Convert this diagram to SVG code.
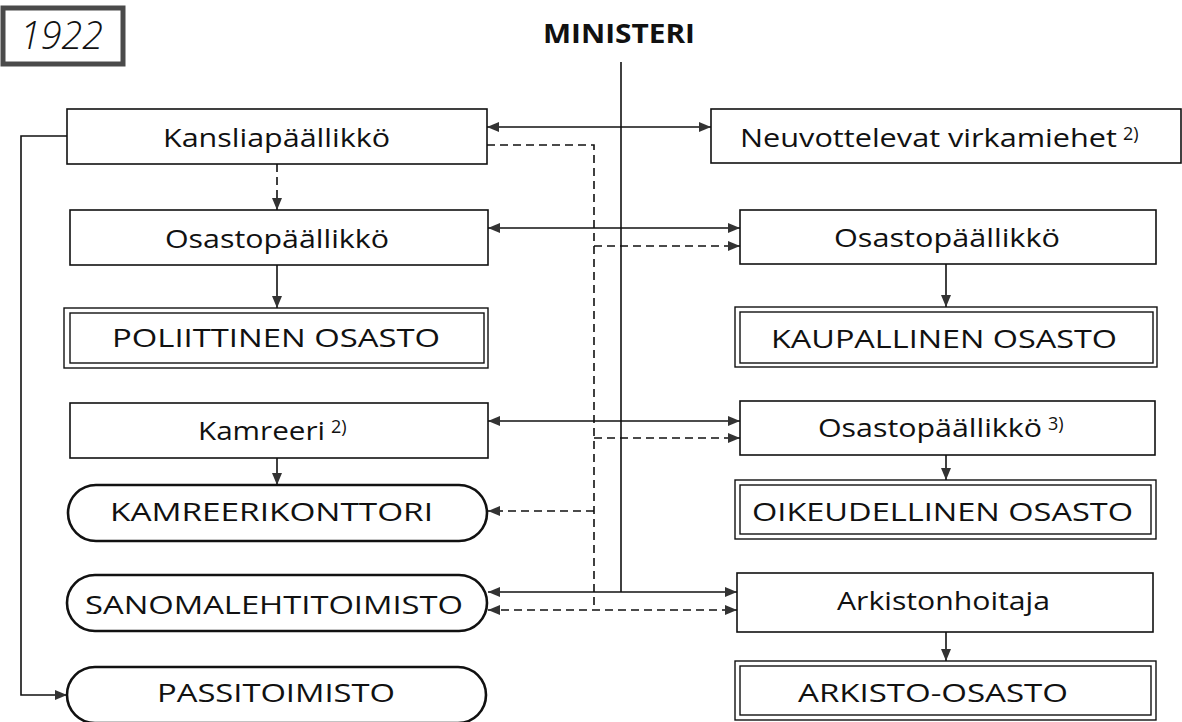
<svg xmlns="http://www.w3.org/2000/svg" width="1182" height="722" viewBox="0 0 1182 722">
<style>
.box{fill:#fff;stroke:#111;stroke-width:1.6}
.dbl{fill:none;stroke:#111;stroke-width:1.4}
.pill{fill:#fff;stroke:#111;stroke-width:2.6}
.t{font-family:"Open Sans","Liberation Sans",sans-serif;font-size:26px;fill:#111}
.sup{font-family:"Open Sans","Liberation Sans",sans-serif;font-size:18px;fill:#111}
.s{fill:none;stroke:#111;stroke-width:1.6}
.d{fill:none;stroke:#111;stroke-width:1.6;stroke-dasharray:8 5}
</style>
<defs>
<marker id="ah" viewBox="0 0 12 10" refX="12" refY="5" markerWidth="12" markerHeight="10" markerUnits="userSpaceOnUse" orient="auto-start-reverse">
<path d="M0,0 L12,5 L0,10 z" fill="#333"/>
</marker>
</defs>
<rect width="1182" height="722" fill="#fff"/>

<g id="year">
<rect x="3" y="8" width="120" height="56" fill="#fff" stroke="#4a4a4a" stroke-width="5"/>
<text x="20" y="49" font-family="'Open Sans','Liberation Sans',sans-serif" font-style="italic" font-weight="300" font-size="38" fill="#111" textLength="83" lengthAdjust="spacingAndGlyphs">1922</text>
</g>
<g id="ministeri">
<text x="543" y="43" font-family="'Open Sans','Liberation Sans',sans-serif" font-weight="bold" font-size="27" fill="#111" textLength="152" lengthAdjust="spacingAndGlyphs">MINISTERI</text>
</g>

<g id="connectors">
<path class="s" d="M621,62 V592"/>
<path class="s" d="M487,127 H711" marker-start="url(#ah)" marker-end="url(#ah)"/>
<path class="d" d="M487,145 H594 V610"/>
<path class="d" d="M277,164 V210" marker-end="url(#ah)"/>
<path class="s" d="M277,265 V308" marker-end="url(#ah)"/>
<path class="s" d="M488,228 H740" marker-start="url(#ah)" marker-end="url(#ah)"/>
<path class="d" d="M594,246 H740" marker-end="url(#ah)"/>
<path class="s" d="M946,264 V307" marker-end="url(#ah)"/>
<path class="s" d="M488,421 H740" marker-start="url(#ah)" marker-end="url(#ah)"/>
<path class="d" d="M594,438 H740" marker-end="url(#ah)"/>
<path class="s" d="M277,458 V485" marker-end="url(#ah)"/>
<path class="s" d="M946,455 V480" marker-end="url(#ah)"/>
<path class="d" d="M594,511 H488" marker-end="url(#ah)"/>
<path class="s" d="M488,592 H737" marker-start="url(#ah)" marker-end="url(#ah)"/>
<path class="d" d="M488,610 H737" marker-start="url(#ah)" marker-end="url(#ah)"/>
<path class="s" d="M946,632 V661" marker-end="url(#ah)"/>
<path class="s" d="M67,136 H21 V695 H67" marker-end="url(#ah)"/>
</g>

<g id="kansliapaallikko">
<rect class="box" x="67" y="109" width="420" height="55"/>
<text class="t" x="163" y="147" textLength="227" lengthAdjust="spacingAndGlyphs">Kansliapäällikkö</text>
</g>
<g id="neuvottelevat">
<rect class="box" x="711" y="109" width="470" height="54"/>
<text class="t" x="740" y="147" textLength="377" lengthAdjust="spacingAndGlyphs">Neuvottelevat virkamiehet</text>
<text class="sup" x="1123" y="140">2)</text>
</g>
<g id="osastopaallikko-pol">
<rect class="box" x="70" y="210" width="418" height="55"/>
<text class="t" x="165" y="248" textLength="224" lengthAdjust="spacingAndGlyphs">Osastopäällikkö</text>
</g>
<g id="poliittinen">
<rect class="dbl" x="64" y="308" width="424" height="60"/>
<rect class="dbl" x="70" y="313" width="414" height="50"/>
<text class="t" x="112" y="347" textLength="328" lengthAdjust="spacingAndGlyphs">POLIITTINEN OSASTO</text>
</g>
<g id="osastopaallikko-kaup">
<rect class="box" x="740" y="210" width="416" height="54"/>
<text class="t" x="834" y="247" textLength="226" lengthAdjust="spacingAndGlyphs">Osastopäällikkö</text>
</g>
<g id="kaupallinen">
<rect class="dbl" x="735" y="307" width="422" height="60"/>
<rect class="dbl" x="740" y="312" width="413" height="51"/>
<text class="t" x="771" y="348" textLength="346" lengthAdjust="spacingAndGlyphs">KAUPALLINEN OSASTO</text>
</g>
<g id="kamreeri">
<rect class="box" x="70" y="403" width="418" height="55"/>
<text class="t" x="198" y="440" textLength="127" lengthAdjust="spacingAndGlyphs">Kamreeri</text>
<text class="sup" x="331" y="433">2)</text>
</g>
<g id="kamreerikonttori">
<rect class="pill" x="68" y="485" width="419" height="56" rx="28" ry="28"/>
<text class="t" x="110" y="521" textLength="323" lengthAdjust="spacingAndGlyphs">KAMREERIKONTTORI</text>
</g>
<g id="osastopaallikko-oik">
<rect class="box" x="740" y="401" width="415" height="54"/>
<text class="t" x="818" y="437" textLength="224" lengthAdjust="spacingAndGlyphs">Osastopäällikkö</text>
<text class="sup" x="1048" y="430">3)</text>
</g>
<g id="oikeudellinen">
<rect class="dbl" x="735" y="480" width="421" height="59"/>
<rect class="dbl" x="740" y="485" width="411" height="49"/>
<text class="t" x="752" y="521" textLength="381" lengthAdjust="spacingAndGlyphs">OIKEUDELLINEN OSASTO</text>
</g>
<g id="sanomalehtitoimisto">
<rect class="pill" x="67" y="575" width="420" height="56" rx="28" ry="28"/>
<text class="t" x="85" y="614" textLength="378" lengthAdjust="spacingAndGlyphs">SANOMALEHTITOIMISTO</text>
</g>
<g id="arkistonhoitaja">
<rect class="box" x="737" y="573" width="416" height="59"/>
<text class="t" x="837" y="610" textLength="213" lengthAdjust="spacingAndGlyphs">Arkistonhoitaja</text>
</g>
<g id="arkisto-osasto">
<rect class="dbl" x="735" y="661" width="421" height="59"/>
<rect class="dbl" x="740" y="666" width="411" height="49"/>
<text class="t" x="798" y="702" textLength="270" lengthAdjust="spacingAndGlyphs">ARKISTO-OSASTO</text>
</g>
<g id="passitoimisto">
<rect class="pill" x="67" y="667" width="419" height="56" rx="28" ry="28"/>
<text class="t" x="157" y="702" textLength="238" lengthAdjust="spacingAndGlyphs">PASSITOIMISTO</text>
</g>
</svg>
